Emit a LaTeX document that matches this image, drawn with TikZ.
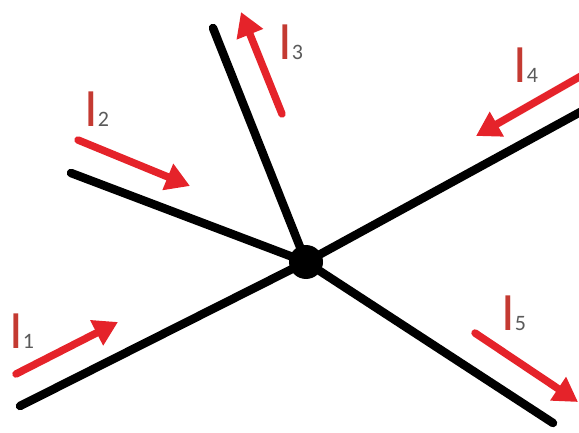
\documentclass[tikz,border=0pt]{standalone}
\usepackage{fontspec}
\setmainfont{Carlito}
\usetikzlibrary{arrows.meta}
\definecolor{arrred}{HTML}{E5232A}
\definecolor{lblred}{HTML}{C43A32}
\definecolor{subgray}{HTML}{5A5A5A}
\tikzset{
  wire/.style={line width=8.5pt, line cap=round, black},
  current/.style={line width=7.5pt, arrred, line cap=round, -{Triangle[length=24pt,width=27pt]}},
  junction/.style={circle, fill=black, inner sep=0pt, minimum size=34pt},
  lbl/.style={anchor=base west, inner sep=0pt}
}
\newcommand{\curlbl}[1]{{\fontsize{54}{54}\selectfont\color{lblred}I}{\fontsize{22}{22}\selectfont\color{subgray}#1}}
\begin{document}
\begin{tikzpicture}[x=1pt,y=-1pt]
\useasboundingbox (0,0) rectangle (579,433);
\node[junction] (c) at (306,262) {};
\coordinate (e1) at (20,406);
\coordinate (e2) at (71,173);
\coordinate (e3) at (213,28);
\coordinate (e4) at (584,110);
\coordinate (e5) at (553,423);
\draw[wire] (e1) -- (c.center);
\draw[wire] (e2) -- (c.center);
\draw[wire] (e3) -- (c.center);
\draw[wire] (c.center) -- (e4);
\draw[wire] (c.center) -- (e5);
% current arrows
\coordinate (t1) at (16,374);  \coordinate (h1) at (118,322);
\coordinate (t2) at (78,140);  \coordinate (h2) at (190,186);
\coordinate (t3) at (282,114); \coordinate (h3) at (241,12);
\coordinate (t4) at (588,72);  \coordinate (h4) at (476,136);
\coordinate (t5) at (475,333); \coordinate (h5) at (578,402);
\draw[current] (t1) -- (h1);
\draw[current] (t2) -- (h2);
\draw[current] (t3) -- (h3);
\draw[current] (t4) -- (h4);
\draw[current] (t5) -- (h5);
% labels
\node[lbl] (l1) at (9,348) {\curlbl{1}};
\node[lbl] (l2) at (84,127) {\curlbl{2}};
\node[lbl] (l3) at (278,60) {\curlbl{3}};
\node[lbl] (l4) at (513,83) {\curlbl{4}};
\node[lbl] (l5) at (501,330) {\curlbl{5}};
\end{tikzpicture}
\end{document}
